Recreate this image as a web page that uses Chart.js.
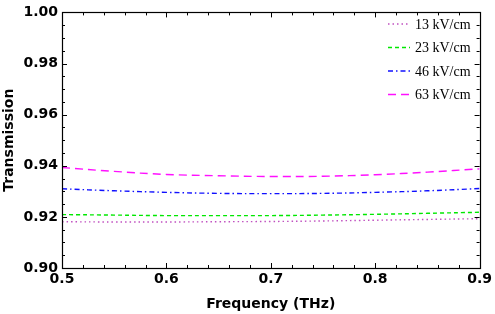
<!DOCTYPE html>
<html>
<head>
<meta charset="utf-8">
<script src="https://cdn.jsdelivr.net/npm/chart.js@4/dist/chart.umd.min.js"></script>
<style>
html,body{margin:0;padding:0;background:#fff}
#wrap{width:495px;height:314px}
</style>
</head>
<body>
<div id="wrap"><canvas id="c" width="495" height="314"></canvas></div>
<script>
// frequency (THz)
const freq=[0.5,0.55,0.6,0.65,0.7,0.75,0.8,0.85,0.9]
// transmission for each field strength
const t13=[0.9181,0.9180,0.9180,0.9181,0.9182,0.9184,0.9187,0.9190,0.9193]
const t23=[0.9209,0.9207,0.9205,0.9205,0.9205,0.9207,0.9210,0.9214,0.9218]
const t46=[0.9310,0.9302,0.9296,0.9292,0.9291,0.9292,0.9296,0.9302,0.9311]
const t63=[0.9393,0.9378,0.9366,0.9361,0.9358,0.9359,0.9365,0.9375,0.9388]
const seriesNames=["13 kV/cm","23 kV/cm","46 kV/cm","63 kV/cm"]

const xTicks=[0.5,0.6,0.7,0.8,0.9]
const yTicks=[0.90,0.92,0.94,0.96,0.98,1.00]

const colors=["#c050c0","#00e800","#1010ff","#ff10ff"]
const dashes=[[1.5,3],[4,3],[5,3,1.5,3],[8,5]]

const lbFont="bold 14px 'DejaVu Sans'"

function pts(ys){return freq.map((x,i)=>({x:x,y:ys[i]}))}

const sets=[t13,t23,t46,t63].map((ys,i)=>({
label:seriesNames[i],
data:pts(ys),
borderColor:colors[i],
borderDash:dashes[i],
borderWidth:1.4,
pointRadius:0,
fill:false,
tension:0.4
}))

function minors(scale,vals,n){
const out=[]
for(let i=0;i<vals.length-1;i++){
for(let k=1;k<n;k++)out.push(vals[i]+(vals[i+1]-vals[i])*k/n)
}
return out
}

const framePlugin={
id:"frame",
afterDatasetsDraw(chart){
const ctx=chart.ctx
const a=chart.chartArea
const xs=chart.scales.x,ys=chart.scales.y
ctx.save()
ctx.strokeStyle="#000"
ctx.lineWidth=1.2
ctx.setLineDash([])
ctx.strokeRect(Math.round(a.left)+0.5,Math.round(a.top)+0.5,Math.round(a.right-a.left),Math.round(a.bottom-a.top))
ctx.lineWidth=1
ctx.beginPath()
const tick=(v,len,isX)=>{
if(isX){
const p=Math.round(xs.getPixelForValue(v))+0.5
ctx.moveTo(p,a.bottom);ctx.lineTo(p,a.bottom-len)
ctx.moveTo(p,a.top);ctx.lineTo(p,a.top+len)
}else{
const p=Math.round(ys.getPixelForValue(v))+0.5
ctx.moveTo(a.left,p);ctx.lineTo(a.left+len,p)
ctx.moveTo(a.right,p);ctx.lineTo(a.right-len,p)
}
}
xTicks.forEach(v=>tick(v,5,true))
minors(xs,xTicks,5).forEach(v=>tick(v,3,true))
yTicks.forEach(v=>tick(v,5,false))
minors(ys,yTicks,4).forEach(v=>tick(v,3,false))
ctx.stroke()

// legend, top right inside the frame
ctx.font="14px 'Liberation Serif'"
ctx.textBaseline="middle"
ctx.fillStyle="#000"
const rows=[24,47.5,71,94.5]
chart.data.datasets.forEach((d,i)=>{
const y=rows[i]
ctx.strokeStyle=d.borderColor
ctx.lineWidth=1.4
ctx.setLineDash(d.borderDash)
ctx.beginPath()
ctx.moveTo(388,y);ctx.lineTo(410,y)
ctx.stroke()
ctx.setLineDash([])
ctx.fillText(d.label,415,y+1)
})
ctx.restore()
}
}

new Chart(document.getElementById("c"),{
type:"line",
data:{datasets:sets},
options:{
responsive:false,
animation:false,
layout:{padding:{top:10,right:14,left:0,bottom:0}},
plugins:{legend:{display:false},tooltip:{enabled:false}},
scales:{
x:{
type:"linear",
min:0.5,max:0.9,
afterBuildTicks(s){s.ticks=xTicks.map(v=>({value:v}))},
afterFit(s){s.height=46},
grid:{display:false,drawTicks:false},
border:{display:false},
ticks:{padding:3,color:"#000",font:{family:"DejaVu Sans",size:14,weight:"bold"},callback:v=>v.toFixed(1),maxRotation:0},
title:{display:true,text:"Frequency (THz)",color:"#000",font:{family:"DejaVu Sans",size:14,weight:"bold"},padding:{top:0,bottom:1}}
},
y:{
min:0.9,max:1.0,
afterBuildTicks(s){s.ticks=yTicks.map(v=>({value:v}))},
afterFit(s){s.width=62},
grid:{display:false,drawTicks:false},
border:{display:false},
ticks:{padding:4,color:"#000",font:{family:"DejaVu Sans",size:14,weight:"bold"},callback:v=>v.toFixed(2)},
title:{display:true,text:"Transmission",color:"#000",font:{family:"DejaVu Sans",size:14,weight:"bold"},padding:{top:1,bottom:0}}
}
}
},
plugins:[framePlugin]
})
</script>
</body>
</html>
